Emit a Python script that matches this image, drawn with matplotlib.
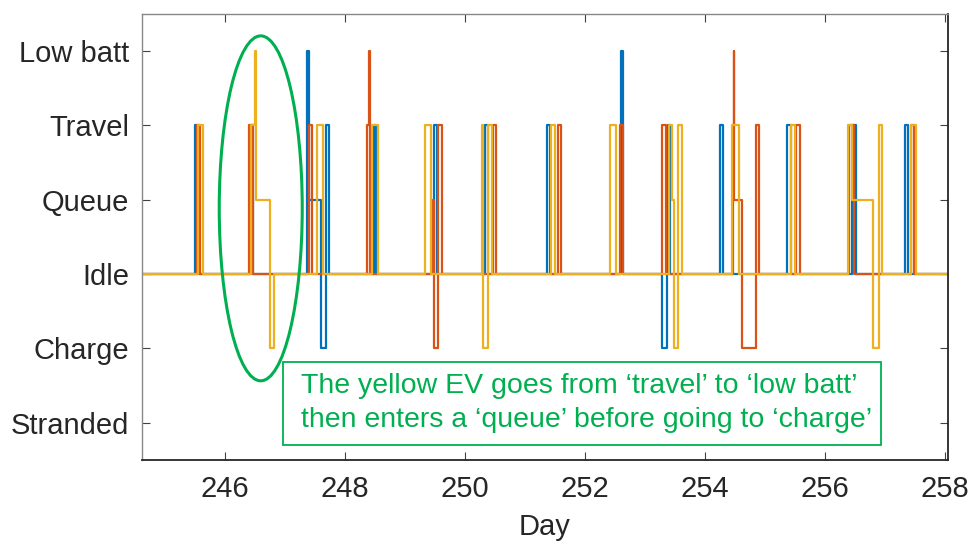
import matplotlib
matplotlib.use("Agg")
import matplotlib.pyplot as plt
from matplotlib.patches import Ellipse, Rectangle

plt.rcParams['font.family'] = ['Liberation Sans', 'DejaVu Sans']

# --- state axis ---
states = ['Stranded', 'Charge', 'Idle', 'Queue', 'Travel', 'Low batt']
day_ticks = [246, 248, 250, 252, 254, 256, 258]

# --- EV 1 (blue) ---
ev1_t = [244.6,
         245.50, 245.54,
         246.43, 246.47,
         247.375, 247.40, 247.60, 247.685, 247.695, 247.735,
         248.485, 248.525,
         249.49, 249.54,
         250.335, 250.385,
         251.375, 251.413,
         252.60, 252.635,
         253.293, 253.377, 253.383, 253.42,
         254.247, 254.308,
         255.375, 255.43,
         256.458, 256.525,
         257.33, 257.385,
         258.1]
ev1_s = ['Idle',
         'Travel', 'Idle',
         'Travel', 'Idle',
         'Low batt', 'Queue', 'Charge', 'Idle', 'Travel', 'Idle',
         'Travel', 'Idle',
         'Travel', 'Idle',
         'Travel', 'Idle',
         'Travel', 'Idle',
         'Low batt', 'Idle',
         'Charge', 'Idle', 'Travel', 'Idle',
         'Travel', 'Idle',
         'Travel', 'Idle',
         'Travel', 'Idle',
         'Travel', 'Idle',
         'Idle']

# --- EV 2 (orange) ---
ev2_t = [244.6,
         245.54, 245.585,
         246.41, 246.47,
         247.41, 247.46,
         248.375, 248.41, 248.425,
         249.455, 249.48, 249.56, 249.62,
         250.475, 250.513,
         251.558, 251.608,
         252.585, 252.642,
         253.285, 253.29, 253.355,
         254.463, 254.478, 254.49, 254.625, 254.855, 254.90,
         255.525, 255.58,
         256.40, 256.485,
         257.43, 257.485,
         258.1]
ev2_s = ['Idle',
         'Travel', 'Idle',
         'Travel', 'Idle',
         'Travel', 'Idle',
         'Travel', 'Low batt', 'Idle',
         'Queue', 'Charge', 'Travel', 'Idle',
         'Travel', 'Idle',
         'Travel', 'Idle',
         'Travel', 'Idle',
         'Queue', 'Travel', 'Idle',
         'Travel', 'Low batt', 'Queue', 'Charge', 'Travel', 'Idle',
         'Travel', 'Idle',
         'Travel', 'Idle',
         'Travel', 'Idle',
         'Idle']

# --- EV 3 (yellow) ---
ev3_t = [244.6,
         245.55, 245.635,
         246.43, 246.50, 246.525, 246.75, 246.818,
         247.54, 247.635,
         248.46, 248.56,
         249.335, 249.43,
         250.29, 250.31, 250.385, 250.458,
         251.43, 251.50,
         252.418, 252.525,
         253.41, 253.46, 253.493, 253.56, 253.617,
         254.46, 254.575,
         255.43, 255.50,
         256.38, 256.455, 256.808, 256.902, 256.958,
         257.43, 257.513,
         258.1]
ev3_s = ['Idle',
         'Travel', 'Idle',
         'Travel', 'Low batt', 'Queue', 'Charge', 'Idle',
         'Travel', 'Idle',
         'Travel', 'Idle',
         'Travel', 'Idle',
         'Travel', 'Charge', 'Travel', 'Idle',
         'Travel', 'Idle',
         'Travel', 'Idle',
         'Travel', 'Queue', 'Charge', 'Travel', 'Idle',
         'Travel', 'Idle',
         'Travel', 'Idle',
         'Travel', 'Queue', 'Charge', 'Travel', 'Idle',
         'Travel', 'Idle',
         'Idle']

note_lines = ["The yellow EV goes from \u2018travel\u2019 to \u2018low batt\u2019",
              "then enters a \u2018queue\u2019 before going to \u2018charge\u2019"]

colors = ['#0072BD', '#D95319', '#EDB120']
green = '#00B050'

fig = plt.figure(figsize=(9.7, 5.43), dpi=100)
ax = fig.add_axes([0.1461, 0.1529, 0.8315, 0.8214])

for t, s, c in zip([ev1_t, ev2_t, ev3_t], [ev1_s, ev2_s, ev3_s], colors):
    y = [states.index(v) for v in s]
    ax.plot(t, y, drawstyle='steps-post', color=c, lw=1.6)

ax.set_xlim(244.617, 258.055)
ax.set_ylim(-0.5, 5.5)
ax.set_yticks(range(len(states)))
ax.set_yticklabels(states)
ax.set_xticks(day_ticks)
ax.set_xlabel('Day', fontsize=21, color='#262626', labelpad=7)

ax.tick_params(direction='in', length=6, width=0.8, colors='#404040',
               labelsize=21, labelcolor='#262626', top=True, right=True)
ax.tick_params(axis='y', pad=9)
ax.tick_params(axis='x', pad=11)
for side in ['left', 'top']:
    ax.spines[side].set_color('#888888')
    ax.spines[side].set_linewidth(1.0)
for side in ['right', 'bottom']:
    ax.spines[side].set_color('#262626')
    ax.spines[side].set_linewidth(1.3)

# highlight around the yellow EV's low battery episode
ax.add_patch(Ellipse((246.6, 2.885), width=1.383, height=4.64, fill=False,
                     edgecolor=green, lw=2.2, clip_on=False, zorder=5))

# note box
ax.add_patch(Rectangle((0.1748, 0.0336), 0.7418, 0.1861, transform=ax.transAxes,
                       fill=True, facecolor='white', edgecolor=green, lw=1.3, zorder=6))
ax.text(0.198, 0.150, note_lines[0], transform=ax.transAxes, color=green,
        fontsize=20.5, va='baseline', ha='left', zorder=7)
ax.text(0.198, 0.075, note_lines[1], transform=ax.transAxes, color=green,
        fontsize=20.5, va='baseline', ha='left', zorder=7)

fig.savefig('out.png', dpi=100)
